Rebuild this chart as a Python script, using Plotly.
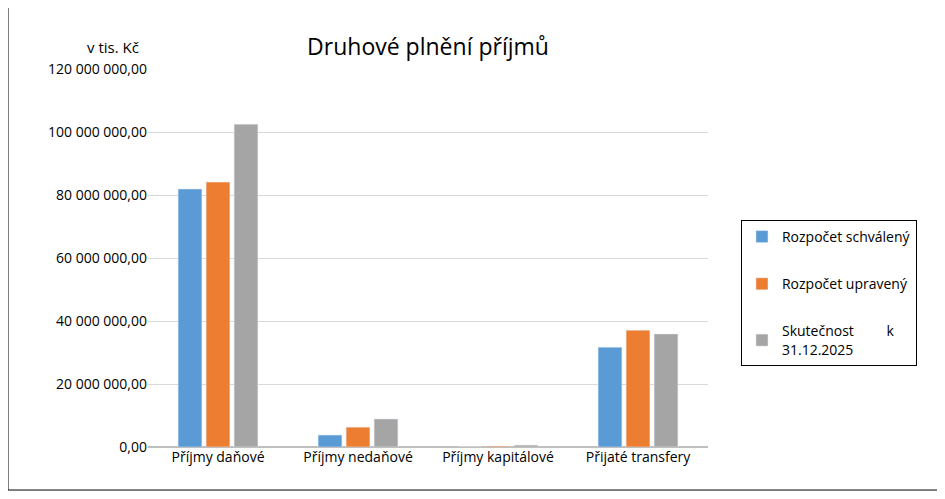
import plotly.graph_objects as go

categories = ["Příjmy daňové", "Příjmy nedaňové", "Příjmy kapitálové", "Přijaté transfery"]
schvaleny = [81900000, 3800000, 0, 31700000]
upraveny = [84100000, 6300000, 300000, 37100000]
skutecnost = [102500000, 8900000, 600000, 35900000]
y_ticks = [0, 20000000, 40000000, 60000000, 80000000, 100000000, 120000000]

series = [
    ("Rozpočet schválený", schvaleny, "#5B9BD5"),
    ("Rozpočet upravený", upraveny, "#ED7D31"),
    ("Skutečnost         k<br>31.12.2025", skutecnost, "#A5A5A5"),
]

fig = go.Figure()
for i, (name, vals, col) in enumerate(series):
    fig.add_trace(go.Bar(x=categories, y=vals, name=name, marker_color=col,
                         legendgroup=str(i)))

fig.update_layout(
    width=929, height=483,
    margin=dict(l=140, r=229, t=61, b=44),
    paper_bgcolor="white", plot_bgcolor="white",
    font=dict(family="Open Sans, Liberation Sans, Arial", size=14, color="#404040"),
    separators=", ",
    barmode="group", bargap=0.4, bargroupgap=0.15,
    title=dict(text="Druhové plnění příjmů", x=0.5, xref="paper", y=0.935,
               xanchor="center", font=dict(size=23, color="#000")),
    legend=dict(x=1.0589, y=0.6005, xanchor="left", yanchor="top",
                bordercolor="black", borderwidth=1, tracegroupgap=26,
                font=dict(size=14, color="#000"), itemwidth=30),
    showlegend=True,
)
fig.update_yaxes(range=[0, 120000000], tickvals=y_ticks, tickformat=",.2f",
                 gridcolor="#D9D9D9", zeroline=True, zerolinecolor="#BFBFBF",
                 tickfont=dict(size=14, color="#000"), ticks="")
fig.update_xaxes(tickfont=dict(size=14, color="#000"), showline=False)

fig.add_annotation(text="v tis. Kč", xref="paper", yref="paper", x=-0.113, y=1.09,
                   showarrow=False, font=dict(size=15, color="#000"))
fig.add_shape(type="rect", xref="paper", yref="paper", x0=-0.25, x1=1.4107,
              y0=-0.1138, y1=1.1667, line=dict(color="black", width=1))

fig.write_html("out.html")
